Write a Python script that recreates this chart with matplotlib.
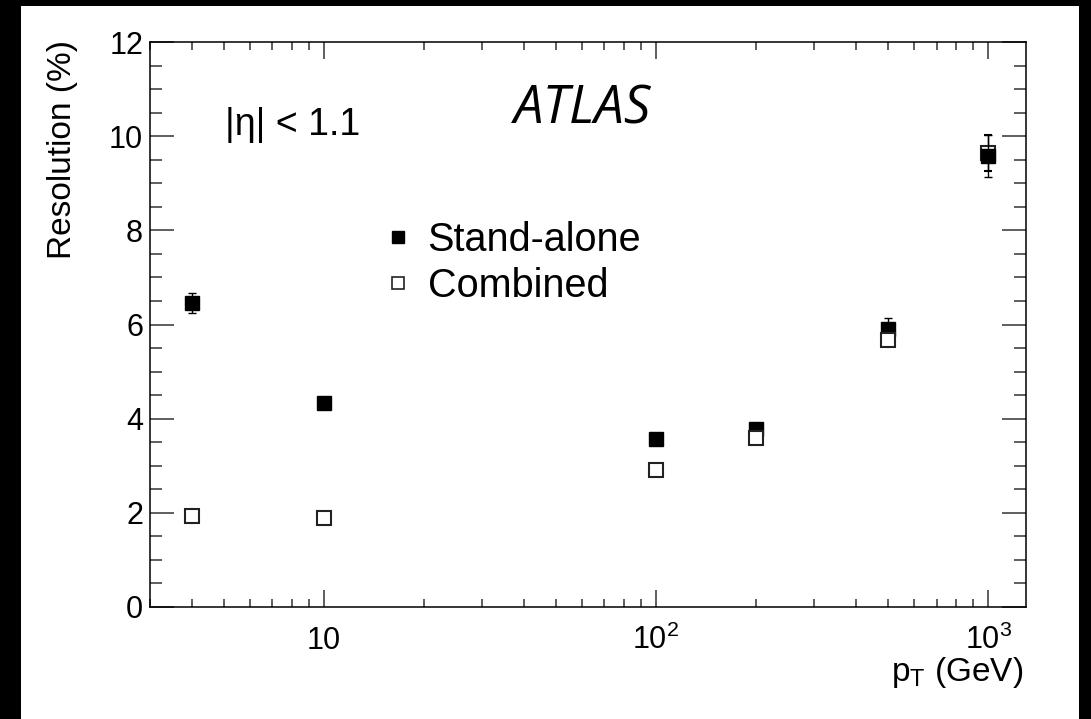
import matplotlib
matplotlib.use('Agg')
import matplotlib.pyplot as plt
from matplotlib.patches import Rectangle
from matplotlib.lines import Line2D
from matplotlib.ticker import FixedLocator, FixedFormatter, MultipleLocator, LogLocator, NullFormatter

plt.rcParams['font.family'] = ['Liberation Sans', 'DejaVu Sans']
plt.rcParams['mathtext.fontset'] = 'custom'
plt.rcParams['mathtext.rm'] = 'Liberation Sans'
plt.rcParams['mathtext.it'] = 'Liberation Sans:italic'

# data
pt = [4, 10, 100, 200, 500, 1000]
standalone = [6.46, 4.34, 3.57, 3.77, 5.91, 9.58]
standalone_err = [0.21, 0.08, 0.08, 0.08, 0.22, 0.44]
combined = [1.93, 1.90, 2.92, 3.60, 5.68, 9.65]
combined_err = [0.05, 0.05, 0.05, 0.06, 0.10, 0.38]

xticks = [10, 100, 1000]
xticklabels = ['10', '10$^{2}$', '10$^{3}$']

W, H = 1091, 719
fig = plt.figure(figsize=(W / 100, H / 100), dpi=100, facecolor='black')
fig.patches.append(Rectangle((21 / W, 0), (1079 - 21) / W, (H - 6) / H,
                             transform=fig.transFigure, facecolor='white',
                             edgecolor='none', zorder=-5))

ax = fig.add_axes([150 / W, (H - 607) / H, (1026 - 150) / W, (607 - 42) / H])
ax.set_zorder(2)
ax.set_xscale('log')
ax.set_xlim(3, 1300)
ax.set_ylim(0, 12)

for i, x in enumerate(pt):
    # lower marker sits on top where the two overlap
    if combined[i] <= standalone[i]:
        z_sa, z_cb = 3, 4
    else:
        z_sa, z_cb = 4, 3
    ax.errorbar(x, standalone[i], yerr=standalone_err[i], fmt='s', ms=10.5,
                mfc='black', mec='black', mew=1.0, ecolor='black',
                elinewidth=1.0, capsize=3, capthick=1.0, zorder=z_sa)
    ax.errorbar(x, combined[i], yerr=combined_err[i], fmt='s', ms=10.5,
                mfc='white', mec='#222222', mew=1.5, ecolor='black',
                elinewidth=1.0, capsize=3, capthick=1.0, zorder=z_cb)

# ticks in ROOT style
ax.xaxis.set_major_locator(FixedLocator(xticks))
ax.xaxis.set_major_formatter(FixedFormatter(xticklabels))
ax.xaxis.set_minor_locator(LogLocator(base=10, subs=range(2, 10)))
ax.xaxis.set_minor_formatter(NullFormatter())
ax.yaxis.set_major_locator(MultipleLocator(2))
ax.yaxis.set_minor_locator(MultipleLocator(0.5))

ax.tick_params(axis='both', which='both', direction='in', top=True, right=True,
               color='#333333', width=1.1, labelsize=22)
ax.tick_params(axis='y', which='major', length=17, pad=5)
ax.tick_params(axis='y', which='minor', length=8.5)
ax.tick_params(axis='x', which='major', length=12.5, pad=30)
ax.tick_params(axis='x', which='minor', length=6)
plt.setp(ax.get_xticklabels(), va='baseline')
for s in ax.spines.values():
    s.set_linewidth(1.1)

# axis titles
fig.text(63 / W, (H - 40) / H, 'Resolution (%)', rotation=90, ha='center',
         va='top', fontsize=24)
fig.text(1023 / W, (H - 681) / H, 'p$_{\\mathrm{T}}$ (GeV)', ha='right',
         va='baseline', fontsize=24)

fig.text(225 / W, (H - 135) / H, '|η| < 1.1', ha='left', va='baseline',
         fontsize=27)
fig.text(514 / W, (H - 124) / H, 'ATLAS', ha='left', va='baseline',
         fontsize=38, family='Open Sans', style='italic', weight='medium')

handles = [Line2D([], [], ls='none', marker='s', ms=8.5, mfc='black', mec='black'),
           Line2D([], [], ls='none', marker='s', ms=8.5, mfc='white', mec='#222222', mew=1.2)]
ax.legend(handles, ['Stand-alone', 'Combined'], loc='upper left',
          bbox_to_anchor=(236 / 876, (607 - 221) / 565), frameon=False,
          fontsize=28.5, handlelength=0.6, handletextpad=0.45, labelspacing=0.2,
          borderpad=0, borderaxespad=0)

fig.savefig('out.png', dpi=100, facecolor=fig.get_facecolor())
